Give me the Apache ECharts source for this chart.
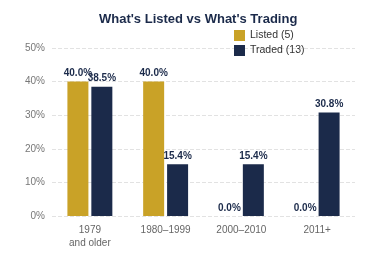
<!DOCTYPE html>
<html>
<head>
<meta charset="utf-8">
<script src="https://cdn.jsdelivr.net/npm/echarts@6/dist/echarts.min.js"></script>
<style>
  html, body { margin: 0; padding: 0; background: #fff; }
  #chart { width: 373px; height: 259px; }
</style>
</head>
<body>
<div id="chart"></div>
<script>
// eras and shares (%)
var categories = ['1979\nand older', '1980–1999', '2000–2010', '2011+'];
var listed = [40.0, 40.0, 0.0, 0.0];
var traded = [38.5, 15.4, 15.4, 30.8];
var yTicks = [0, 10, 20, 30, 40, 50];

var myChart = echarts.init(document.getElementById('chart'));

var labelStyle = {
    show: true,
    position: 'top',
    distance: 3,
    color: '#1B2A4A',
    fontWeight: 'bold',
    fontSize: 10,
    fontFamily: 'Liberation Sans, Arial, sans-serif',
    formatter: function (p) { return p.value.toFixed(1) + '%'; }
};

var option = {
    animation: false,
    title: {
        text: "What's Listed vs What's Trading",
        left: 94,
        top: 8,
        textStyle: {
            color: '#1B2A4A',
            fontSize: 13,
            fontWeight: 'bold',
            fontFamily: 'Liberation Sans, Arial, sans-serif'
        }
    },
    legend: {
        orient: 'vertical',
        left: 229,
        top: 25,
        itemWidth: 11,
        itemHeight: 11,
        itemGap: 4,
        icon: 'rect',
        textStyle: { fontSize: 10.5, color: '#333', fontFamily: 'Liberation Sans, Arial, sans-serif' },
        data: ['Listed (5)', 'Traded (13)']
    },
    grid: { left: 52, right: 18, top: 48, bottom: 43 },
    xAxis: {
        type: 'category',
        data: categories,
        axisLine: { show: false },
        axisTick: { show: false },
        axisLabel: {
            color: '#666',
            fontSize: 10,
            margin: 8,
            lineHeight: 13,
            fontFamily: 'Liberation Sans, Arial, sans-serif'
        }
    },
    yAxis: {
        type: 'value',
        min: yTicks[0],
        max: yTicks[yTicks.length - 1],
        interval: 10,
        axisLabel: {
            formatter: '{value}%',
            color: '#777',
            fontSize: 10,
            margin: 7,
            fontFamily: 'Liberation Sans, Arial, sans-serif'
        },
        splitLine: { lineStyle: { type: 'dashed', color: '#e2e2e2' } }
    },
    series: [
        {
            name: 'Listed (5)',
            type: 'bar',
            data: listed,
            barWidth: 21,
            barGap: '14%',
            itemStyle: { color: '#C9A227' },
            label: labelStyle
        },
        {
            name: 'Traded (13)',
            type: 'bar',
            data: traded,
            barWidth: 21,
            itemStyle: { color: '#1B2A4A' },
            label: labelStyle
        }
    ]
};

myChart.setOption(option);
</script>
</body>
</html>
